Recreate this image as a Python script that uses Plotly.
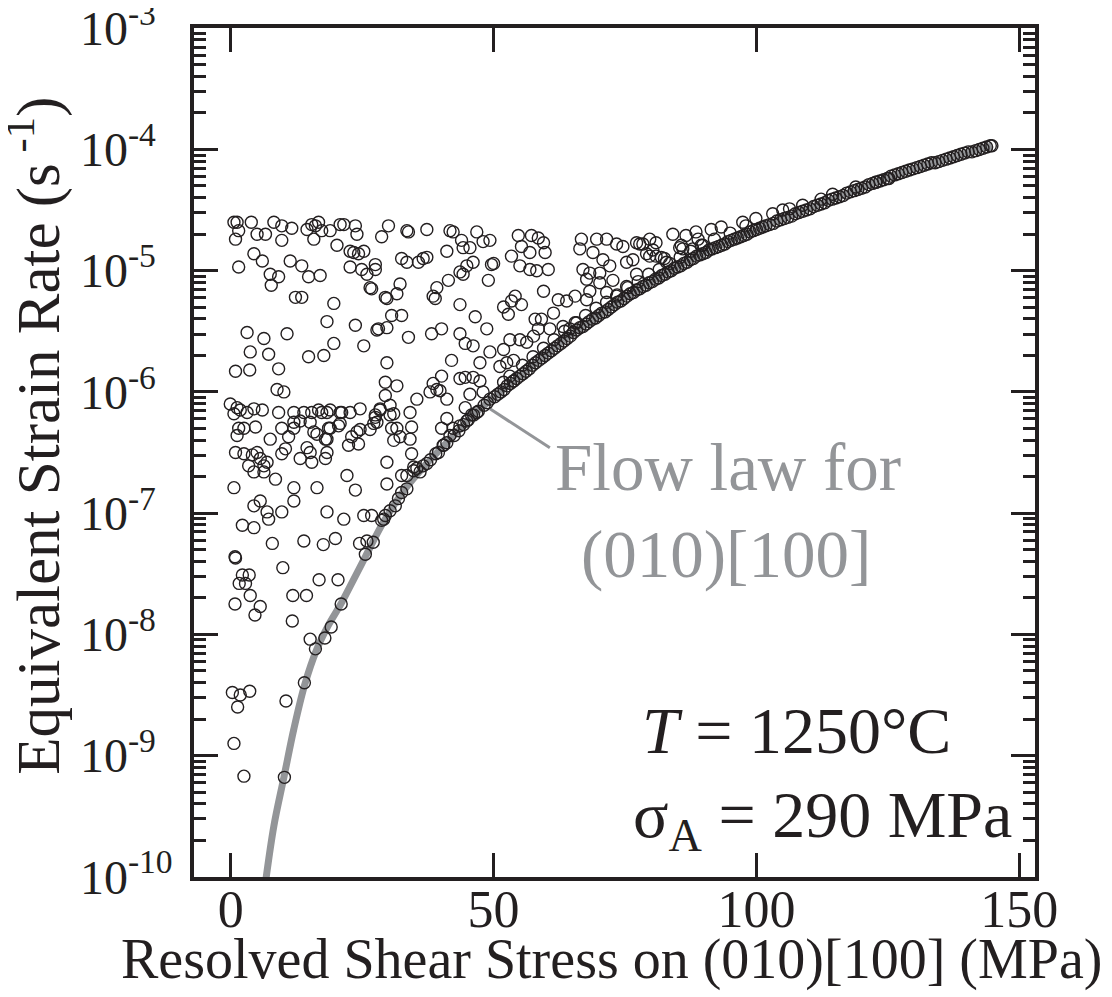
import plotly.graph_objects as go

# ---- flow law for (010)[100] (grey curve), log10 of strain rate
flow_stress = [6.5, 8.2, 10.1, 12.0, 14.1, 16.3, 18.5, 20.8, 22.5, 25.6, 29.1, 33.0, 37.3, 41.1,
               45.5, 49.6, 55.0, 60.0, 65.0, 70.0, 75.0, 80.0, 89.2, 101.8, 114.5, 127.1, 136.0, 144.8]
flow_log_rate = [-10.08, -9.58, -9.18, -8.78, -8.41, -8.13, -7.93, -7.76, -7.62, -7.36, -7.07, -6.81, -6.59, -6.42,
                 -6.22, -6.06, -5.87, -5.69, -5.52, -5.37, -5.22, -5.09, -4.87, -4.63, -4.41, -4.20, -4.08, -3.97]

# ---- grains, 0-50 MPa
low_stress = [
    0.6, 1.2, 1.5, 0.9, 3.9, 5.0, 6.6, 8.2, 9.7, 9.7,
    11.6, 14.5, 15.4, 16.1, 16.7, 15.8, 17.3, 18.9, 20.8, 21.5,
    23.7, 24.0, 20.2, 22.7, 23.4, 24.3, 25.3, 22.7, 24.9, 25.9,
    27.5, 27.5, 26.5, 26.8, 29.4, 29.7, 31.6, 32.2, 28.7, 30.0,
    33.5, 33.8, 37.3, 41.7, 42.3, 43.9, 44.2, 45.5, 46.8, 48.0,
    49.3, 49.6, 49.0, 46.1, 44.9, 44.2, 43.6, 41.1, 39.2, 38.5,
    38.9, 41.4, 37.3, 36.6, 35.7, 32.5, 33.5, 17.0, 14.8, 13.5,
    11.3, 9.1, 7.5, 7.7, 6.0, 4.4, 1.5, 12.3, 13.5, 19.6,
    18.3, 23.7, 27.8, 28.1, 29.7, 30.6, 32.5, 33.8, 38.2, 40.1,
    43.6, 44.6, 46.1, 46.5, 48.7, 49.3, 47.4, 43.6, 42.0, 25.3,
    19.6, 17.7, 14.8, 10.7, 6.3, 3.1, 3.7, 7.2, 9.1, 3.6,
    0.9, 29.7, 8.8, 10.1, 29.4, 31.6, 29.4, 30.3, 28.4, 27.5,
    31.0, 34.1, 35.4, 37.9, 39.2, 39.8, 40.1, 38.5, 41.1, 43.6,
    44.6, 46.1, 45.5, 47.4, 48.0, 49.3, 44.6, 41.1, 40.1, 42.3,
    43.6, 44.9, 45.8, 46.8, 41.7, 41.1, 40.4, 39.5, 37.3, 36.6,
    35.4, 34.8, 33.5, 33.5, 32.5, 31.9, 31.3, 30.3, 29.4, 29.1,
    28.7, 26.8, 25.3, 27.5, 27.8, 27.2, 26.5, 24.6, 24.0, 23.0,
    24.3, 22.4, 22.1, 23.7, 21.5, 18.3, 16.4, 12.0, 12.0, 9.7,
    7.2, 6.9, 5.6, 4.4, 2.2, 4.4, 0.6, 8.5, 6.3, 5.6,
    4.1, 5.0, 2.5, 0.9, 6.3, 4.4, 3.4, 6.9, 9.7, 10.4,
    13.2, 14.5, 15.4, 15.1, 18.0, 18.3, 16.4, 18.3, 18.9, 20.8,
    20.8, 22.7, 24.6, 28.4, 30.3, 31.6, 32.2, 34.1, 31.0, 30.6,
    34.4, 34.4, 29.7, 29.7, 32.5, 34.8, -0.1, 1.2, 1.8, 3.1,
    4.4, 6.0, 0.6, 1.5, 1.2, 2.5, 4.7, 7.5, 9.1, 12.0,
    13.9, 15.4, 16.7, 17.3, 18.3, 18.9, 21.1, 15.1, 13.2, 12.0,
    9.7, 11.0, 12.0, 15.8, 18.6, 18.0, 20.5,
    7.9, 13.9, 17.6, 19.9, 24.5, 25.9, 27.1, 25.6, 0.9, 0.8,
    9.9, 2.2, 3.5, 1.6, 2.8, 3.7, 0.8, 5.6, 4.6, 11.8,
    14.4, 16.8, 20.4, 21.0, 19.1, 11.7, 17.9, 15.1, 16.1, 14.0,
    10.5, 0.3, 1.8, 3.6, 1.3, 0.6, 2.5, 10.2,
]
low_log_rate = [
    -4.60, -4.60, -4.67, -4.74, -4.60, -4.70, -4.70, -4.60, -4.63, -4.75,
    -4.65, -4.66, -4.62, -4.63, -4.60, -4.74, -4.67, -4.67, -4.62, -4.62,
    -4.63, -4.70, -4.79, -4.84, -4.85, -4.86, -4.84, -4.97, -4.99, -5.03,
    -4.99, -4.95, -5.14, -5.15, -5.22, -5.23, -5.19, -5.11, -4.72, -4.63,
    -4.67, -4.68, -4.66, -4.67, -4.68, -4.75, -4.81, -4.81, -4.68, -4.76,
    -4.75, -4.95, -5.08, -4.93, -4.96, -5.03, -5.01, -4.84, -5.14, -5.21,
    -5.23, -5.08, -4.89, -4.90, -4.93, -4.90, -4.93, -5.04, -5.05, -4.96,
    -4.92, -5.05, -5.03, -5.12, -4.92, -4.86, -4.97, -5.22, -5.22, -5.27,
    -5.42, -5.45, -5.49, -5.48, -5.47, -5.37, -5.37, -5.55, -5.52, -5.48,
    -5.52, -5.60, -5.62, -5.38, -5.48, -5.67, -5.76, -5.28, -5.74, -5.62,
    -5.60, -5.70, -5.71, -5.52, -5.56, -5.51, -5.67, -5.69, -5.81, -5.82,
    -5.83, -5.76, -5.98, -6.00, -5.92, -5.95, -6.03, -6.11, -6.14, -6.19,
    -6.18, -6.17, -6.06, -6.00, -5.98, -5.99, -5.87, -5.93, -6.06, -5.89,
    -5.88, -5.88, -6.02, -5.91, -6.00, -6.06, -6.13, -6.22, -6.30, -6.30,
    -6.28, -6.24, -6.19, -6.17, -6.36, -6.42, -6.44, -6.50, -6.59, -6.61,
    -6.63, -6.65, -6.69, -6.80, -6.83, -6.88, -6.94, -6.98, -7.02, -7.05,
    -7.06, -7.02, -7.02, -6.21, -6.25, -6.26, -6.31, -6.31, -6.33, -6.37,
    -6.43, -6.44, -6.69, -6.81, -7.05, -6.99, -6.79, -6.79, -6.90, -6.99,
    -7.05, -6.99, -6.90, -6.94, -7.10, -7.12, -6.79, -6.72, -6.61, -6.55,
    -6.52, -6.50, -6.51, -6.50, -6.66, -6.66, -6.61, -6.58, -6.51, -6.47,
    -6.55, -6.46, -6.58, -6.50, -6.55, -6.50, -6.35, -6.39, -6.30, -6.26,
    -6.17, -6.17, -6.14, -6.15, -6.19, -6.30, -6.37, -6.39, -6.40, -6.30,
    -6.29, -6.51, -6.58, -6.76, -6.69, -6.62, -6.10, -6.13, -6.15, -6.17,
    -6.14, -6.15, -6.18, -6.30, -6.36, -6.30, -6.29, -6.39, -6.17, -6.17,
    -6.17, -6.17, -6.15, -6.17, -6.17, -6.15, -6.17, -6.25, -6.24, -6.25,
    -6.30, -6.37, -6.30, -6.33, -6.30, -6.39, -6.28,
    -7.25, -7.23, -7.26, -7.21, -7.25, -7.23, -7.24, -7.34, -7.37, -7.36,
    -7.45, -7.51, -7.51, -7.58, -7.58, -7.68, -7.75, -7.77, -7.84, -7.68,
    -7.68, -7.55, -7.55, -7.75, -7.94, -7.89, -8.03, -8.04, -8.12, -8.40,
    -8.55, -8.48, -8.50, -8.47, -8.60, -8.90, -9.17, -9.18,
]

# ---- grains, 50-125 MPa lying above the curve
high_stress = [
    50.0, 54.7, 57.2, 58.5, 59.5, 55.3, 56.9, 59.8, 53.4, 55.0,
    56.9, 58.2, 60.4, 59.5, 62.3, 63.9, 65.5, 61.4, 54.1, 53.4,
    55.3, 51.9, 52.8, 57.9, 59.1, 58.5, 63.2, 64.5, 65.8, 67.0,
    68.3, 70.2, 66.7, 69.6, 71.5, 73.4, 74.6, 76.5, 75.3, 66.4,
    68.9, 70.8, 72.1, 67.7, 70.2, 72.7, 71.5, 68.3, 67.7, 73.4,
    75.3, 77.2, 77.8, 79.7, 80.9, 84.1, 86.6, 85.4, 82.9, 80.9,
    79.1, 53.1, 55.0, 52.5, 53.8, 56.3, 57.6, 60.7, 53.1, 51.9,
    53.8, 51.2, 51.9, 85.7, 87.9, 81.9, 82.5, 80.3, 79.7, 77.2,
    78.4,
    91.4, 93.3, 89.8, 97.4, 99.9, 103.1, 105.0, 106.3, 108.8, 112.3,
    114.5, 118.9, 122.7, 125.2, 88.5, 88.9, 86.0,
]
high_log_rate = [
    -4.94, -4.71, -4.71, -4.73, -4.77, -4.80, -4.85, -4.85, -4.88, -4.96,
    -4.99, -5.00, -4.99, -5.17, -5.24, -5.25, -5.21, -5.35, -5.21, -5.25,
    -5.28, -5.30, -5.36, -5.40, -5.40, -5.48, -5.46, -5.48, -5.43, -4.99,
    -5.02, -5.02, -4.74, -4.74, -4.74, -4.78, -4.80, -4.91, -4.93, -4.82,
    -4.85, -4.91, -4.96, -5.07, -5.10, -5.08, -5.18, -5.17, -5.24, -5.21,
    -5.13, -5.03, -4.78, -4.74, -4.77, -4.70, -4.71, -4.81, -4.93, -4.88,
    -4.86, -5.57, -5.57, -5.76, -5.74, -5.59, -5.54, -5.48, -5.87, -5.92,
    -5.91, -5.79, -5.65, -4.79, -4.82, -4.89, -4.90, -4.83, -4.88, -4.77,
    -4.78,
    -4.66, -4.64, -4.79, -4.60, -4.57, -4.53, -4.50, -4.49, -4.46, -4.41,
    -4.37, -4.31, -4.27, -4.24, -4.68, -4.74, -4.82,
]

# ---- grains sitting on the flow law (dense chain)
chain_stress = [
    36.0, 38.0, 39.0, 40.5, 42.5, 43.4, 44.3, 45.2, 46.2, 47.1, 48.2, 48.8,
    50.2, 50.8, 51.4, 52.0, 52.6, 53.2, 53.8, 54.4, 55.0, 55.6, 56.2, 56.8, 57.4, 58.0, 58.6, 59.2, 59.8,
    60.4, 61.0, 61.6, 62.2, 62.8, 63.4, 64.0, 64.6, 65.2, 65.8, 66.4, 67.0, 67.6, 68.2, 68.8, 69.4, 70.0,
    70.6, 71.2, 71.8, 72.4, 73.0, 73.6, 74.2, 74.8, 75.4, 76.0, 76.6, 77.2, 77.8, 78.4, 79.0, 79.6,
    80.2, 80.8, 81.4, 82.0, 82.6, 83.2, 83.8, 84.4, 85.0, 85.6, 86.2, 86.8, 87.4, 88.0, 88.6, 89.2,
    89.8, 90.4, 91.0, 91.6, 92.2, 92.8, 93.4, 94.0, 94.6, 95.2, 95.8, 96.4, 97.0, 97.6, 98.2, 98.8,
    99.4, 100.0, 100.6, 101.2, 101.8,
    102.5, 103.2, 103.9, 104.6, 105.3, 106.0, 106.7, 107.4, 108.1, 108.8, 109.5, 110.2, 110.9, 111.6,
    112.3, 113.0, 113.7, 114.4,
    115.1, 115.8, 116.5, 117.2, 117.9, 118.6, 119.3, 120.0, 120.7, 121.4, 122.1, 122.8, 123.5, 124.2,
    124.9, 125.6, 126.3, 127.0,
    127.7, 128.4, 129.1, 129.8, 130.5, 131.2, 131.9, 132.6, 133.3, 134.0, 134.7, 135.4,
    136.1, 136.8, 137.5, 138.2, 138.9, 139.6, 140.3, 141.0, 141.7, 142.4, 143.1, 143.8, 144.5, 144.8,
    55.5, 57.5, 59.5, 61.5, 63.5, 65.5, 67.5, 69.5, 71.5, 73.5, 75.5, 77.5, 79.5, 81.5, 83.5, 85.5,
    87.5, 89.5, 92.0, 95.0, 98.0,
]
chain_log_rate = [
    -6.66, -6.56, -6.51, -6.44, -6.36, -6.32, -6.27, -6.23, -6.19, -6.16, -6.11, -6.09,
    -6.04, -6.02, -6.00, -5.98, -5.95, -5.93, -5.91, -5.89, -5.87, -5.85, -5.83, -5.81, -5.78, -5.76, -5.74, -5.72, -5.70,
    -5.68, -5.66, -5.64, -5.62, -5.60, -5.58, -5.56, -5.54, -5.51, -5.49, -5.47, -5.46, -5.44, -5.42, -5.40, -5.39, -5.37,
    -5.35, -5.34, -5.32, -5.30, -5.28, -5.26, -5.25, -5.23, -5.21, -5.19, -5.18, -5.16, -5.15, -5.13, -5.12, -5.10,
    -5.09, -5.07, -5.06, -5.04, -5.03, -5.01, -5.00, -4.98, -4.97, -4.96, -4.94, -4.93, -4.91, -4.90, -4.88, -4.87,
    -4.86, -4.85, -4.83, -4.82, -4.81, -4.80, -4.79, -4.78, -4.76, -4.75, -4.74, -4.73, -4.72, -4.71, -4.70, -4.68,
    -4.67, -4.66, -4.65, -4.64, -4.63,
    -4.62, -4.61, -4.59, -4.58, -4.57, -4.56, -4.55, -4.53, -4.52, -4.51, -4.50, -4.49, -4.47, -4.46,
    -4.45, -4.44, -4.42, -4.41,
    -4.40, -4.39, -4.38, -4.36, -4.35, -4.34, -4.33, -4.32, -4.31, -4.29, -4.28, -4.27, -4.26, -4.25,
    -4.24, -4.22, -4.21, -4.20,
    -4.19, -4.18, -4.17, -4.16, -4.15, -4.14, -4.13, -4.12, -4.11, -4.11, -4.10, -4.09,
    -4.08, -4.07, -4.06, -4.05, -4.04, -4.03, -4.02, -4.02, -4.01, -4.00, -3.99, -3.98, -3.97, -3.97,
    -5.78, -5.71, -5.64, -5.57, -5.50, -5.43, -5.37, -5.31, -5.26, -5.20, -5.14, -5.09, -5.03, -4.99, -4.94, -4.89,
    -4.84, -4.79, -4.74, -4.69, -4.63,
]

# label leader line (stress, log10 rate)
leader_stress = [49.3, 60.7]
leader_log_rate = [-6.14, -6.46]

x_ticks = [0, 50, 100, 150]
y_tick_exp = [-10, -9, -8, -7, -6, -5, -4, -3]
# labels sit left-aligned in the original, so the shorter exponents get trailing padding
y_tick_text = ["10<sup>-10</sup>", "10<sup>-9\u00a0\u00a0</sup>", "10<sup>-8\u00a0\u00a0</sup>",
               "10<sup>-7\u00a0\u00a0</sup>", "10<sup>-6\u00a0\u00a0</sup>", "10<sup>-5\u00a0\u00a0</sup>",
               "10<sup>-4\u00a0\u00a0</sup>", "10<sup>-3\u00a0\u00a0</sup>"]

assert len(low_stress) == len(low_log_rate)
assert len(high_stress) == len(high_log_rate)
assert len(chain_stress) == len(chain_log_rate)

FONT = "Liberation Serif, Times New Roman, serif"
INK = "#231f20"
GREY = "#939598"


def rates(logs):
    return [10 ** v for v in logs]


grain_stress = low_stress + high_stress + chain_stress
grain_rate = rates(low_log_rate + high_log_rate + chain_log_rate)

fig = go.Figure()
fig.add_trace(go.Scatter(x=flow_stress, y=rates(flow_log_rate), mode="lines",
                         line=dict(color=GREY, width=7, shape="spline"), hoverinfo="skip"))
fig.add_trace(go.Scatter(x=leader_stress, y=rates(leader_log_rate), mode="lines",
                         line=dict(color=GREY, width=3), hoverinfo="skip"))
fig.add_trace(go.Scatter(x=grain_stress, y=grain_rate, mode="markers",
                         marker=dict(symbol="circle-open", size=12, color=INK,
                                     line=dict(width=1.4, color=INK))))

axis_common = dict(showgrid=False, zeroline=False, showline=True, linewidth=3.5, linecolor=INK,
                   mirror="ticks", ticks="inside", ticklen=24, tickwidth=3, tickcolor=INK,
                   automargin=False, ticklabeloverflow="allow")

# the page body adds an 8px margin, so the figure is 8px smaller and margins shifted
fig.update_layout(
    template="none",
    width=1104, height=989,
    margin=dict(l=186, r=77, t=20, b=120),
    plot_bgcolor="white", paper_bgcolor="white",
    showlegend=False,
    font=dict(family=FONT, color=INK),
    xaxis=dict(range=[-7, 153], tickvals=x_ticks, ticklabelstandoff=-16,
               tickfont=dict(family=FONT, size=52, color=INK), **axis_common),
    yaxis=dict(type="log", range=[-10.002, -2.998], tickvals=rates(y_tick_exp), ticktext=y_tick_text,
               ticklabelstandoff=8, tickfont=dict(family=FONT, size=48, color=INK),
               minor=dict(ticks="inside", ticklen=12, tickwidth=3, tickcolor=INK, dtick="D1"),
               **axis_common),
)

annotations = [
    dict(x=0.497, y=-0.097, text="Resolved Shear Stress on (010)[100] (MPa)",
         font=dict(size=56, color=INK)),
    dict(x=-0.19, y=0.52, text="Equivalent Strain Rate (s<sup> -1</sup>)", textangle=-90,
         font=dict(size=61, color=INK)),
    dict(x=0.635, y=0.483, text="Flow law for", font=dict(size=67, color=GREY)),
    dict(x=0.632, y=0.380, text="(010)[100]", font=dict(size=67, color=GREY)),
    dict(x=0.716, y=0.172, text="<i>T</i> = 1250°C", font=dict(size=66, color=INK)),
    dict(x=0.747, y=0.068, text="σ<sub>A</sub> = 290 MPa", font=dict(size=66, color=INK)),
]
for a in annotations:
    fig.add_annotation(xref="paper", yref="paper", showarrow=False,
                       xanchor="center", yanchor="middle", **a)

fig.write_html("out.html")
